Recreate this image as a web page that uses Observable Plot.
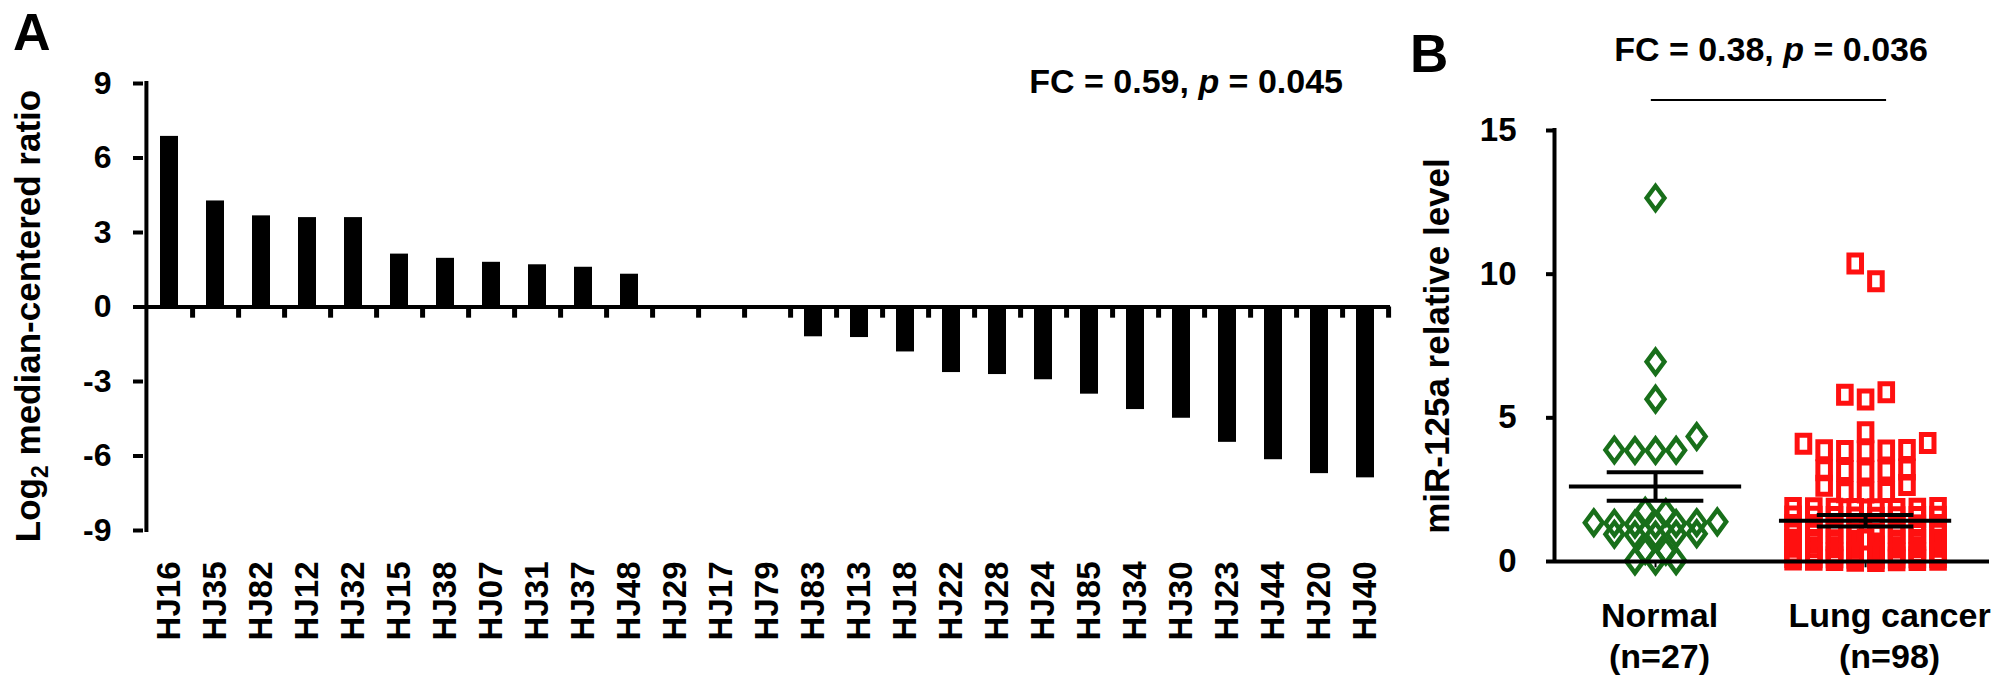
<!DOCTYPE html>
<html><head><meta charset="utf-8">
<script src="https://cdn.jsdelivr.net/npm/d3@7"></script>
<script src="https://cdn.jsdelivr.net/npm/@observablehq/plot@0.6"></script>
<style>
html,body{margin:0;padding:0;background:#fff;}
#wrap{position:relative;width:2008px;height:683px;overflow:hidden;background:#fff;}
#wrap svg{position:absolute;top:0;}
</style></head><body><div id="wrap"></div>
<script>
// ---------------- DATA ----------------
// Panel A: log2 median-centered ratio per sample
const sampleNames = ["HJ16","HJ35","HJ82","HJ12","HJ32","HJ15","HJ38","HJ07","HJ31","HJ37","HJ48","HJ29","HJ17","HJ79","HJ83","HJ13","HJ18","HJ22","HJ28","HJ24","HJ85","HJ34","HJ30","HJ23","HJ44","HJ20","HJ40"];
const log2Ratios = [6.87,4.27,3.67,3.60,3.60,2.13,1.96,1.80,1.70,1.60,1.32,0.02,0.01,-0.08,-1.20,-1.23,-1.81,-2.64,-2.72,-2.93,-3.51,-4.13,-4.48,-5.45,-6.15,-6.71,-6.88];
const yTicksA = [9,6,3,0,-3,-6,-9];
const statTextA = ["FC = 0.59, ", "p", " = 0.045"];

// Panel B: miR-125a relative level
const groups = ["Normal","Lung cancer"];
const groupNs = ["(n=27)","(n=98)"];
const normalLevels = [12.65,6.95,5.65,4.35,3.88,3.87,3.86,3.86,
  1.75,1.70,
  1.38,1.35,1.35,1.33,1.32,1.30,1.28,
  0.97,0.95,0.95,0.93,0.92,
  0.38,0.36,
  0.03,0.02,0.02];
const lungLevels = [10.37,9.75,5.89,5.80,5.64,4.50,4.12,4.10,
  3.88,3.86,3.85,3.87,3.84,
  3.20,3.17,3.15,3.18,3.13,
  2.66,2.64,2.42,2.40,2.41,
  1.86,1.84,1.83,1.85,1.82,1.84,1.86,1.83,
  1.56,1.55,1.53,1.57,1.54,1.55,1.52,1.56,
  1.26,1.25,1.23,1.27,1.24,1.25,1.22,1.26,
  1.01,1.00,0.98,1.02,0.99,1.00,0.97,1.01,
  0.76,0.75,0.73,0.77,0.74,0.75,0.72,0.76,
  0.51,0.50,0.48,0.52,0.49,0.50,0.47,0.51,0.50,
  0.31,0.30,0.28,0.32,0.29,0.30,0.27,0.31,0.30,
  0.16,0.15,0.13,0.17,0.14,0.15,0.12,0.16,0.15,
  0.06,0.05,0.03,0.07,0.04,0.05,0.02,0.06];
const groupMeans = [2.61, 1.42];
const groupSems = [0.50, 0.20];
const yTicksB = [0,5,10,15];
const statTextB = ["FC = 0.38, ", "p", " = 0.036"];
const bracketLevel = 16.06;

// ---------------- HELPERS ----------------
const FONT = '"Liberation Sans", Arial, Helvetica, sans-serif';
const GREEN = "#186f1a";
const RED = "#ff1010";
const wrap = document.getElementById("wrap");

const diamondSym = {draw(ctx, size) { const h = Math.sqrt(size / Math.PI), w = h * 0.74;
  ctx.moveTo(0, -h); ctx.lineTo(w, 0); ctx.lineTo(0, h); ctx.lineTo(-w, 0); ctx.closePath(); }};
const squareSym = {draw(ctx, size) { const h = Math.sqrt(size / Math.PI), w = h * 0.74;
  ctx.moveTo(-w, -h); ctx.lineTo(w, -h); ctx.lineTo(w, h); ctx.lineTo(-w, h); ctx.closePath(); }};

// GraphPad-like scatter layout: rows of similar values spread around the group centre
function scatterRows(values, center, step, tolFn, maxPerRow) {
  const sorted = values.slice().sort((a, b) => b - a);
  const rows = [];
  for (const v of sorted) {
    const row = rows[rows.length - 1];
    if (row && row[0] - v <= tolFn(row[0])) row.push(v); else rows.push([v]);
  }
  const out = [];
  for (const row of rows) {
    row.sort((a, b) => a - b);
    for (let c = 0; c < row.length; c += maxPerRow) {
      const chunk = row.slice(c, c + maxPerRow), m = chunk.length;
      chunk.forEach((v, k) => {
        const slot = m % 2 ? (k === 0 ? 0 : (k % 2 ? -1 : 1) * Math.ceil(k / 2))
                           : (k % 2 ? -1 : 1) * (Math.floor(k / 2) + 0.5);
        out.push({value: v, x: center + slot * step});
      });
    }
  }
  return out;
}

function addText(svg, {x, y, rotate = 0, anchor = "start", size, parts}) {
  const t = d3.select(svg).append("text")
    .attr("transform", `translate(${x},${y}) rotate(${rotate})`)
    .attr("text-anchor", anchor).attr("font-size", size).attr("font-weight", "bold")
    .attr("font-family", FONT).attr("fill", "black");
  for (const p of parts) {
    const ts = t.append("tspan").text(p.text);
    if (p.italic) ts.attr("font-style", "italic");
    if (p.sub) ts.attr("font-size", Math.round(size * 0.65)).attr("dy", Math.round(size * 0.22));
    if (p.after) ts.attr("dy", -Math.round(size * 0.22));
  }
  return t;
}

// ---------------- PANEL A ----------------
const WA = 1400, HA = 683, mlA = 143, mrA = 10, mtA = 83, mbA = 153;
const stepA = (WA - mlA - mrA) / sampleNames.length;
const barsA = sampleNames.map((name, i) => ({name, value: log2Ratios[i]}));
const tickDepthA = 0.45; // tick length below the zero line, in y units

const plotA = Plot.plot({
  width: WA, height: HA, marginLeft: mlA, marginRight: mrA, marginTop: mtA, marginBottom: mbA,
  style: `font-family:${FONT};font-weight:bold;color:black;background:white;overflow:visible;left:0px;`,
  x: {type: "band", domain: sampleNames, paddingInner: 0.61, paddingOuter: 0.305},
  y: {domain: [-9, 9]},
  marks: [
    Plot.barY(barsA, {x: "name", y1: 0, y2: "value", fill: "black"}),
    Plot.ruleY([0], {strokeWidth: 4}),
    Plot.ruleX(barsA, {x: "name", y1: () => 0, y2: () => -tickDepthA, dx: stepA / 2, stroke: "black", strokeWidth: 5}),
    Plot.ruleX([sampleNames[0]], {x: d => d, y1: -9, y2: 9, dx: -stepA / 2, strokeWidth: 4, strokeLinecap: "square"}),
    Plot.axisY({ticks: yTicksA, tickFormat: d => String(d), tickSize: 10, tickPadding: 22,
      fontSize: 32, fontWeight: "bold", strokeWidth: 4, label: null}),
    Plot.axisX({tickRotate: -90, tickSize: 0, tickPadding: 31, fontSize: 33, fontWeight: "bold", label: null})
  ]
});
wrap.appendChild(plotA);
addText(plotA, {x: 13, y: 50, size: 52, parts: [{text: "A"}]});
addText(plotA, {x: 1343, y: 93, anchor: "end", size: 34,
  parts: [{text: statTextA[0]}, {text: statTextA[1], italic: true}, {text: statTextA[2]}]});
addText(plotA, {x: 40, y: 316, rotate: -90, anchor: "middle", size: 35,
  parts: [{text: "Log"}, {text: "2", sub: true}, {text: " median-centered ratio", after: true}]});

// ---------------- PANEL B ----------------
const WB = 608, HB = 683, mlB = 154, mrB = 19, mtB = 130, mbB = 122;
const xDomainB = [-0.481, 1.59];
const normalPts = scatterRows(normalLevels, 0, 0.098, v => Math.max(0.05, 0.13 * v), 7);
const lungPts = scatterRows(lungLevels, 1, 0.0986, v => Math.max(0.35, 0.07 * v), 8);
const stats = groups.map((g, i) => ({i, mean: groupMeans[i], lo: groupMeans[i] - groupSems[i], hi: groupMeans[i] + groupSems[i]}));
const labelsB = groups.map((g, i) => ({i, label: g + "\n" + groupNs[i]}));

const plotB = Plot.plot({
  width: WB, height: HB, marginLeft: mlB, marginRight: mrB, marginTop: mtB, marginBottom: mbB,
  style: `font-family:${FONT};font-weight:bold;color:black;background:white;overflow:visible;left:1400px;`,
  x: {domain: xDomainB, axis: null},
  y: {domain: [0, 15]},
  marks: [
    Plot.ruleX(stats, {x: "i", y1: () => 0, y2: () => -0.22, strokeWidth: 2}),
    Plot.dot(normalPts, {x: "x", y: "value", symbol: diamondSym, r: 12, stroke: GREEN, strokeWidth: 4.5, fill: "none"}),
    Plot.dot(lungPts, {x: "x", y: "value", symbol: squareSym, r: 8.5, stroke: RED, strokeWidth: 5, fill: "none"}),
    Plot.ruleY([0], {strokeWidth: 4}),
    Plot.ruleX([xDomainB[0]], {y1: 0, y2: 15, strokeWidth: 4, strokeLinecap: "square"}),
    Plot.ruleY(stats, {y: "mean", x1: d => d.i - 0.41, x2: d => d.i + 0.41, strokeWidth: 4}),
    Plot.ruleY(stats, {y: "hi", x1: d => d.i - 0.23, x2: d => d.i + 0.23, strokeWidth: 4}),
    Plot.ruleY(stats, {y: "lo", x1: d => d.i - 0.23, x2: d => d.i + 0.23, strokeWidth: 4}),
    Plot.ruleX(stats, {x: "i", y1: "lo", y2: "hi", strokeWidth: 4}),
    Plot.ruleY([bracketLevel], {x1: -0.02, x2: 1.1, strokeWidth: 2}),
    Plot.axisY({ticks: yTicksB, tickFormat: d => String(d), tickSize: 8, tickPadding: 30,
      fontSize: 33, fontWeight: "bold", strokeWidth: 4, label: null}),
    Plot.text(labelsB, {filter: d => d.i === 0, x: "i", text: "label", frameAnchor: "bottom", lineAnchor: "top",
      dy: 37, dx: 4, fontSize: 34, fontWeight: "bold", lineHeight: 1.2}),
    Plot.text(labelsB, {filter: d => d.i === 1, x: "i", text: "label", frameAnchor: "bottom", lineAnchor: "top",
      dy: 37, dx: 24, fontSize: 34, fontWeight: "bold", lineHeight: 1.2})
  ]
});
wrap.appendChild(plotB);
addText(plotB, {x: 10, y: 72, size: 53, parts: [{text: "B"}]});
addText(plotB, {x: 371, y: 61, anchor: "middle", size: 34,
  parts: [{text: statTextB[0]}, {text: statTextB[1], italic: true}, {text: statTextB[2]}]});
addText(plotB, {x: 49, y: 346, rotate: -90, anchor: "middle", size: 35,
  parts: [{text: "miR-125a relative level"}]});
</script></body></html>
